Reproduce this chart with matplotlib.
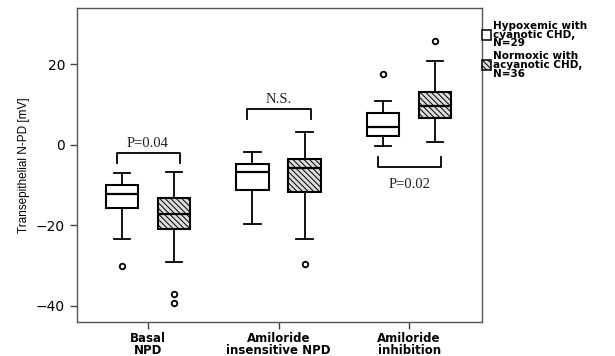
import matplotlib
matplotlib.use("Agg")
import matplotlib.pyplot as plt
from matplotlib.patches import Rectangle

# five-number summaries (mV) per condition, hypoxemic vs normoxic group
categories = ["Basal\nNPD", "Amiloride\ninsensitive NPD", "Amiloride\ninhibition"]
group_labels = ["Hypoxemic with\ncyanotic CHD,\nN=29", "Normoxic with\nacyanotic CHD,\nN=36"]

hypox_whislo = [-23.5, -19.6, -0.4]
hypox_q1 = [-15.6, -11.3, 2.1]
hypox_med = [-12.2, -6.8, 4.4]
hypox_q3 = [-9.9, -4.7, 8.0]
hypox_whishi = [-7.0, -1.8, 10.8]
hypox_fliers = [[-30.1], [], [17.6]]

normox_whislo = [-29.1, -23.4, 0.8]
normox_q1 = [-20.9, -11.8, 6.7]
normox_med = [-17.1, -5.8, 9.7]
normox_q3 = [-13.2, -3.6, 13.2]
normox_whishi = [-6.7, 3.3, 20.9]
normox_fliers = [[-37.0, -39.2], [-29.5], [25.8]]

p_labels = ["P=0.04", "N.S.", "P=0.02"]
bracket_y = [-2.0, 8.9, -5.6]
bracket_dir = [-1, -1, 1]   # -1: legs point down, 1: legs point up

plt.rcParams["hatch.linewidth"] = 0.7
HATCH = "\\\\\\\\\\\\"
HATCH_FC = "#dcdcdc"

fig = plt.figure(figsize=(6.15, 3.56), dpi=100)
ax = fig.add_axes([0.125, 0.0955, 0.659, 0.882])


def make_stats(lo, q1, med, q3, hi, fl):
    return [dict(whislo=a, q1=b, med=c, q3=d, whishi=e, fliers=f)
            for a, b, c, d, e, f in zip(lo, q1, med, q3, hi, fl)]


pos = list(range(len(categories)))
offset = 0.2
common = dict(widths=0.25, patch_artist=True,
              boxprops=dict(edgecolor="black", linewidth=1.5),
              medianprops=dict(color="black", linewidth=1.6),
              whiskerprops=dict(color="black", linewidth=1.3),
              capprops=dict(color="black", linewidth=1.3),
              flierprops=dict(marker="o", markersize=4, markerfacecolor="white",
                              markeredgecolor="black", markeredgewidth=1.3))

b1 = ax.bxp(make_stats(hypox_whislo, hypox_q1, hypox_med, hypox_q3, hypox_whishi, hypox_fliers),
            positions=[p - offset for p in pos], **common)
b2 = ax.bxp(make_stats(normox_whislo, normox_q1, normox_med, normox_q3, normox_whishi, normox_fliers),
            positions=[p + offset for p in pos], **common)
for box in b1["boxes"]:
    box.set_facecolor("white")
for box in b2["boxes"]:
    box.set_facecolor(HATCH_FC)
    box.set_hatch(HATCH)

# significance brackets
for p, y, d, lab in zip(pos, bracket_y, bracket_dir, p_labels):
    x0, x1 = p - 0.24, p + 0.245
    leg = 2.5 * d
    ax.plot([x0, x0, x1, x1], [y + leg, y, y, y + leg], color="black", lw=1.3)
    ty = y + 2.4 if d < 0 else y - 4.3
    ax.text(p, ty, lab, ha="center", va="center", fontsize=10.5,
            family="Liberation Serif", color="#222222")

ax.set_xlim(-0.545, 2.56)
ax.set_ylim(-44, 34)
ax.set_yticks([-40, -20, 0, 20])
ax.set_yticklabels(["\u221240", "\u221220", "0", "20"], fontsize=10)
ax.set_xticks(pos)
ax.set_xticklabels(categories, fontsize=8.5, fontweight="bold", linespacing=0.9)
ax.tick_params(axis="both", direction="out", length=5, width=1, color="#444444")
ax.tick_params(axis="x", pad=2)
for s in ax.spines.values():
    s.set_color("#555555")
    s.set_linewidth(1)
ax.set_ylabel("Transepithelial N-PD [mV]", fontsize=8.5, family="Liberation Sans",
              labelpad=4)

# legend drawn beside the axes
legend_rows = [(0.903, "white", None), (0.818, HATCH_FC, HATCH)]
for (yc, fc, hatch), label in zip(legend_rows, group_labels):
    fig.patches.append(Rectangle((0.784, yc - 0.014), 0.014, 0.027, transform=fig.transFigure,
                                 facecolor=fc, edgecolor="black", lw=1.1, hatch=hatch))
    fig.text(0.801, yc, label, fontsize=7.5, fontweight="bold", linespacing=0.85,
             va="center", ha="left")

fig.savefig("out.png", dpi=100)
